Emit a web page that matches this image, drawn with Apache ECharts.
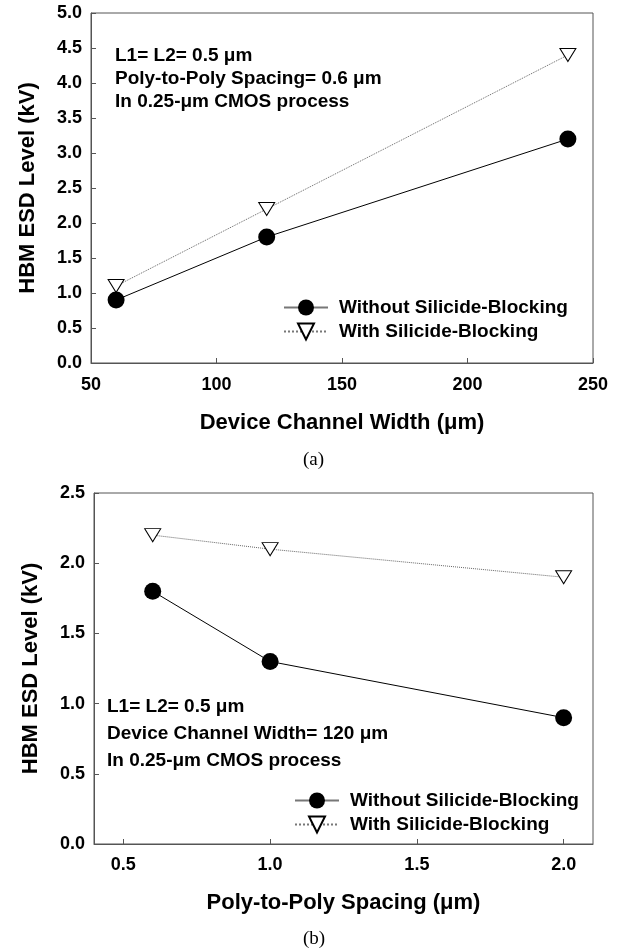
<!DOCTYPE html>
<html>
<head>
<meta charset="utf-8">
<script src="https://cdn.jsdelivr.net/npm/echarts@6/dist/echarts.min.js"></script>
<style>
  html, body { margin: 0; padding: 0; background: #fff; }
  #main { width: 621px; height: 952px; }
</style>
</head>
<body>
<div id="main"></div>
<script>
// (a) 器件沟道宽度
var widthX = [60, 120, 240];
var widthNoBlock = [0.9, 1.8, 3.2];
var widthBlock = [1.1, 2.2, 4.4];

// (b) poly 间距
var spacingX = [0.6, 1.0, 2.0];
var spacingNoBlock = [1.8, 1.3, 0.9];
var spacingBlock = [2.2, 2.1, 1.9];

var spacingTicks = [0.5, 1.0, 1.5, 2.0];

var seriesNames = ['Without Silicide-Blocking', 'With Silicide-Blocking'];
var notesA = ['L1= L2= 0.5 \u03bcm', 'Poly-to-Poly Spacing= 0.6 \u03bcm', 'In 0.25-\u03bcm CMOS process'];
var notesB = ['L1= L2= 0.5 \u03bcm', 'Device Channel Width= 120 \u03bcm', 'In 0.25-\u03bcm CMOS process'];

var FONT = 'Liberation Sans';
var AXIS_COLOR = '#555';
var triDown = 'path://M0,0L20,0L10,17Z';

function pairs(xs, ys) {
  return xs.map(function (x, i) { return [x, ys[i]]; });
}

function yAxisOpt(idx, max, interval) {
  return {
    type: 'value',
    gridIndex: idx,
    min: 0,
    max: max,
    interval: interval,
    name: 'HBM ESD Level (kV)',
    nameLocation: 'middle',
    nameGap: 52,
    nameTextStyle: { fontFamily: FONT, fontWeight: 'bold', fontSize: 22, color: '#000' },
    axisLine: { show: true, lineStyle: { color: AXIS_COLOR, width: 1 } },
    axisTick: { show: true, inside: true, length: 5, lineStyle: { color: AXIS_COLOR } },
    axisLabel: {
      margin: 9,
      fontFamily: FONT, fontWeight: 'bold', fontSize: 18, color: '#000',
      formatter: function (v) { return v.toFixed(1); }
    },
    splitLine: { show: false }
  };
}

function lineSeries(name, xi, data, solid) {
  return {
    name: name,
    type: 'line',
    xAxisIndex: xi,
    yAxisIndex: xi,
    data: data,
    symbol: solid ? 'circle' : triDown,
    symbolSize: solid ? 17 : [16, 13],
    itemStyle: solid
      ? { color: '#000', borderColor: '#000', borderWidth: 0 }
      : { color: '#fff', borderColor: '#000', borderWidth: 1 },
    lineStyle: solid
      ? { color: '#000', width: 1, type: 'solid' }
      : { color: '#666', width: 1, type: 'dotted' },
    z: solid ? 3 : 2,
    animation: false
  };
}

function legendOpt(left, top) {
  return {
    orient: 'vertical',
    left: left,
    top: top,
    itemWidth: 44,
    itemHeight: 20,
    itemGap: 5,
    data: seriesNames,
    selectedMode: false,
    lineStyle: { color: '#777' },
    textStyle: { fontFamily: FONT, fontWeight: 'bold', fontSize: 19, color: '#000', padding: [0, 0, 0, 6] }
  };
}

function noteTexts(lines, left, tops) {
  return lines.map(function (t, i) {
    return {
      type: 'text',
      left: left,
      top: tops[i],
      style: { text: t, fontFamily: FONT, fontWeight: 'bold', fontSize: 19, fill: '#000' }
    };
  });
}

var chart = echarts.init(document.getElementById('main'));

var option = {
  backgroundColor: '#fff',
  animation: false,
  grid: [
    { left: 91, width: 502, top: 13, height: 350, show: true, borderColor: AXIS_COLOR, borderWidth: 1, backgroundColor: 'transparent' },
    { left: 94, width: 499, top: 493, height: 351, show: true, borderColor: AXIS_COLOR, borderWidth: 1, backgroundColor: 'transparent' }
  ],
  xAxis: [
    {
      type: 'value',
      gridIndex: 0,
      min: 50,
      max: 250,
      interval: 50,
      name: 'Device Channel Width (\u03bcm)',
      nameLocation: 'middle',
      nameGap: 49,
      nameTextStyle: { fontFamily: FONT, fontWeight: 'bold', fontSize: 22, color: '#000' },
      axisLine: { show: true, lineStyle: { color: AXIS_COLOR, width: 1 } },
      axisTick: { show: true, inside: true, length: 5, lineStyle: { color: AXIS_COLOR } },
      axisLabel: { margin: 13, fontFamily: FONT, fontWeight: 'bold', fontSize: 18, color: '#000' },
      splitLine: { show: false }
    },
    {
      type: 'value',
      gridIndex: 1,
      min: 0.4,
      max: 2.1,
      name: 'Poly-to-Poly Spacing (\u03bcm)',
      nameLocation: 'middle',
      nameGap: 48,
      nameTextStyle: { fontFamily: FONT, fontWeight: 'bold', fontSize: 22, color: '#000' },
      axisLine: { show: true, lineStyle: { color: AXIS_COLOR, width: 1 } },
      axisTick: { show: true, inside: true, length: 5, customValues: spacingTicks, lineStyle: { color: AXIS_COLOR } },
      axisLabel: {
        margin: 12, fontFamily: FONT, fontWeight: 'bold', fontSize: 18, color: '#000',
        customValues: spacingTicks,
        formatter: function (v) { return v.toFixed(1); }
      },
      splitLine: { show: false }
    }
  ],
  yAxis: [
    yAxisOpt(0, 5, 0.5),
    yAxisOpt(1, 2.5, 0.5)
  ],
  legend: [
    legendOpt(278, 293),
    legendOpt(289, 786)
  ],
  series: [
    lineSeries(seriesNames[0], 0, pairs(widthX, widthNoBlock), true),
    lineSeries(seriesNames[1], 0, pairs(widthX, widthBlock), false),
    lineSeries(seriesNames[0], 1, pairs(spacingX, spacingNoBlock), true),
    lineSeries(seriesNames[1], 1, pairs(spacingX, spacingBlock), false)
  ],
  graphic: noteTexts(notesA, 115, [46, 69, 92])
    .concat(noteTexts(notesB, 107, [697, 724, 751]))
    .concat([
      { type: 'text', left: 303, top: 451, style: { text: '(a)', fontFamily: 'Liberation Serif', fontSize: 19, fill: '#000' } },
      { type: 'text', left: 303, top: 930, style: { text: '(b)', fontFamily: 'Liberation Serif', fontSize: 19, fill: '#000' } }
    ])
};

chart.setOption(option);
</script>
</body>
</html>
